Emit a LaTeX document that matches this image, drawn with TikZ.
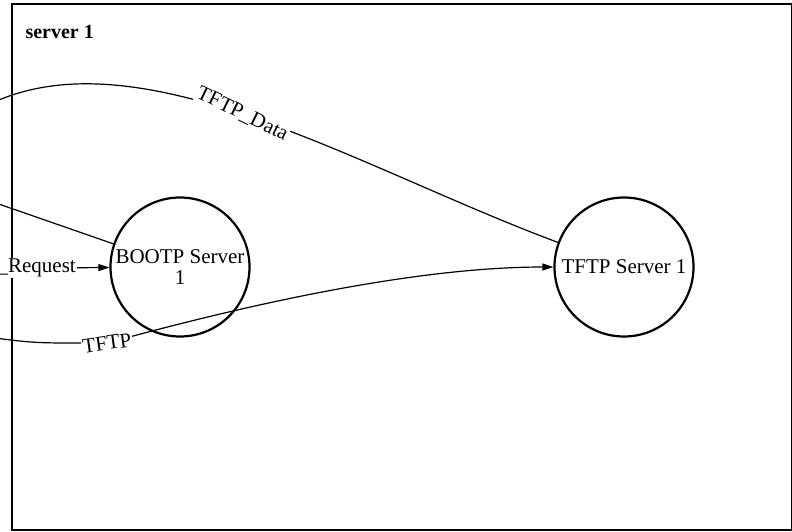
\documentclass[tikz,border=0pt]{standalone}
\usepackage{fontspec}
\setmainfont{Liberation Serif}
\usetikzlibrary{arrows.meta}
\begin{document}
\begin{tikzpicture}[x=1pt,y=-1pt,
 every node/.style={font=\fontsize{21}{21}\selectfont},
 state/.style={circle,draw,line width=2.2pt,minimum size=139pt,inner sep=0pt,align=center},
 lbl/.style={fill=white,inner sep=1pt},
 edge/.style={line width=1.2pt},
 arr/.style={edge,-{Triangle[length=11pt,width=7pt]}}]
\useasboundingbox (0,0) rectangle (792,531);
\clip (0,0) rectangle (792,531);
\draw[line width=2pt] (11.5,4) rectangle (791.5,529.5);
\node[anchor=base west,font=\fontsize{20}{20}\selectfont\bfseries] (title) at (22,38) {server 1};
\node[state] (bootp) at (180,267) {BOOTP Server\\1};
\node[state] (tftp) at (624,267) {TFTP Server 1};
% TFTP_Data
\coordinate (dfree) at (-30,115);
\draw[edge] (tftp) .. controls (350,165) and (120,20) .. (dfree)
  node[pos=0.5,lbl,rotate=-26] (dlbl) {TFTP\_Data};
% unlabeled edge
\coordinate (bfree) at (-30,194);
\draw[edge] (bootp) -- (bfree);
% Request
\node[lbl,anchor=east] (rlbl) at (77,268) {\_Request};
\draw[arr] (rlbl) -- (bootp);
% TFTP
\coordinate (tfree) at (-40,333);
\node[lbl,rotate=8] (tlbl) at (107,343) {TFTP};
\draw[edge] (tfree) .. controls (30,343) .. (tlbl);
\draw[arr] (tlbl) .. controls (260,302) and (420,267) .. (tftp);
\end{tikzpicture}
\end{document}
